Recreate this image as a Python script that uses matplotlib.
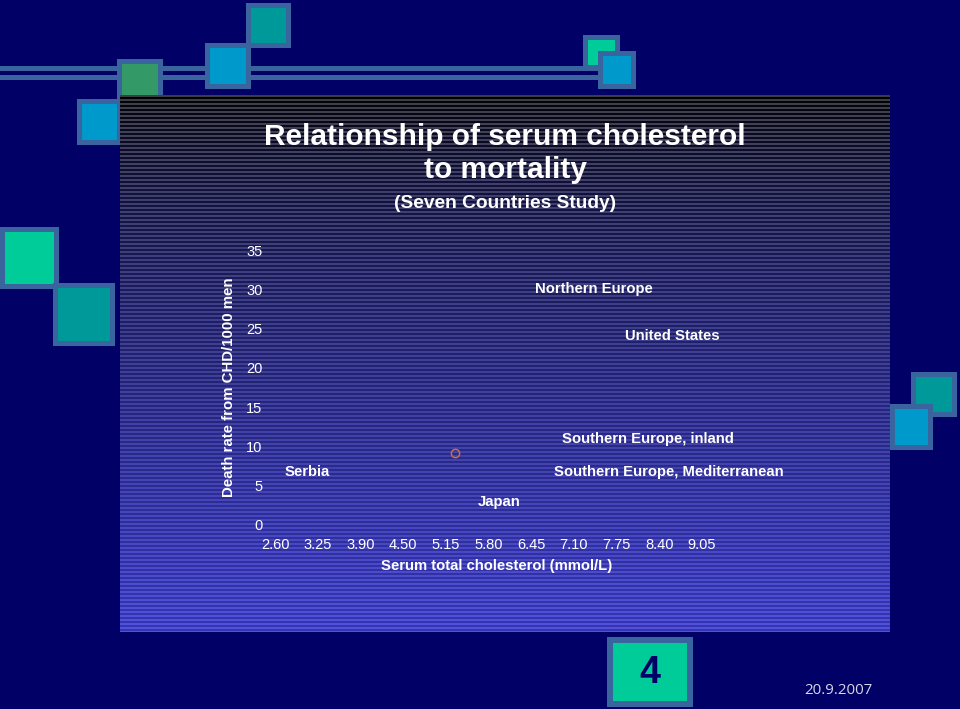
import numpy as np
import matplotlib
matplotlib.use("Agg")
import matplotlib.pyplot as plt
from matplotlib.patches import Rectangle

plt.rcParams["font.family"] = ["Liberation Sans", "DejaVu Sans"]

# eje x categórico: etiquetas tal cual en la diapositiva
x_labels = ["2.60", "3.25", "3.90", "4.50", "5.15", "5.80",
            "6.45", "7.10", "7.75", "8.40", "9.05"]
y_ticks = [0, 5, 10, 15, 20, 25, 30, 35]

# el único punto dibujado
point_chol = [5.29]
point_rate = [9.2]

# rótulos de regiones (colesterol, tasa)
region_names = ["Northern Europe", "United States", "Southern Europe, inland",
                "Southern Europe, Mediterranean", "Serbia", "Japan"]
region_chol = [7.41, 8.60, 8.22, 8.55, 3.09, 5.96]
region_rate = [30.0, 24.0, 10.9, 6.7, 6.7, 2.9]

NAVY = "#000066"
BORDE = "#3a649e"

W, H = 960, 709
fig = plt.figure(figsize=(W / 100, H / 100), dpi=100, facecolor=NAVY)

# capa de fondo en coordenadas de píxel
bg = fig.add_axes([0, 0, 1, 1])
bg.set_xlim(0, W)
bg.set_ylim(H, 0)
bg.axis("off")
bg.set_facecolor(NAVY)


def cuadro(x0, y0, x1, y1, relleno, b=5):
    bg.add_patch(Rectangle((x0, y0), x1 - x0, y1 - y0, fc=BORDE, ec="none"))
    bg.add_patch(Rectangle((x0 + b, y0 + b), x1 - x0 - 2 * b, y1 - y0 - 2 * b,
                           fc=relleno, ec="none"))


# barra horizontal superior
bg.add_patch(Rectangle((0, 66), 598, 14, fc=BORDE, ec="none"))
bg.add_patch(Rectangle((0, 71), 598, 3.5, fc=NAVY, ec="none"))

cuadro(246, 3, 291, 48, "#009999")
cuadro(205, 43, 251, 89, "#0099cc")
cuadro(117, 59, 163, 105, "#339966")
cuadro(77, 99, 122, 145, "#0099cc")
cuadro(583, 35, 620, 70, "#00cc99")
cuadro(598, 51, 636, 89, "#0099cc")
cuadro(0, 227, 59, 289, "#00cc99")
cuadro(53, 283, 115, 346, "#009999")
cuadro(911, 372, 957, 417, "#009999")
cuadro(890, 404, 933, 450, "#0099cc")

# panel degradado con rayas horizontales
px0, px1, py0, py1 = 120, 890, 95, 632
n = py1 - py0
t = np.linspace(0, 1, n)[:, None]
base = np.array([0.21, 0.21, 0.70]) * t ** 0.65
linea = (base + np.array([0.24, 0.24, 0.24]) * (1 - t) ** 2
         + np.array([0.11, 0.11, 0.17]) * t)
filas = np.arange(n) % 4 < 2
img = np.where(filas[:, None], linea, base).clip(0, 1)[:, None, :]
bg.imshow(img, extent=(px0, px1, py1, py0), aspect="auto",
          interpolation="nearest", zorder=2)

# títulos
bg.text(505, 137, "Relationship of serum cholesterol", color="white",
        fontsize=21.5, fontweight="bold", ha="center", va="center", zorder=3)
bg.text(505, 170, "to mortality", color="white",
        fontsize=21.5, fontweight="bold", ha="center", va="center", zorder=3)
bg.text(505, 203, "(Seven Countries Study)", color="white",
        fontsize=13.8, fontweight="bold", ha="center", va="center", zorder=3)

# número de diapositiva y fecha
cuadro(607, 637, 693, 707, "#00cc99", b=6)
bg.text(650, 673, "4", color=NAVY, fontsize=27, fontweight="bold",
        ha="center", va="center", zorder=3)
bg.text(838, 690, "20.9.2007", color="#d8d8e8", fontsize=10.8,
        family=["Open Sans", "DejaVu Sans"], ha="center", va="center", zorder=3)

# gráfico: categoría 0 en x=275 px, paso 42.7 px
paso = 42.7
izq, der = 268, 808
x_min = (izq - 275) / paso
x_max = (der - 275) / paso
ancho = der - izq
ax = fig.add_axes([izq / W, 1 - 525 / H, ancho / W, 275 / H])
ax.patch.set_alpha(0)
for s in ax.spines.values():
    s.set_visible(False)
ax.set_xlim(x_min, x_max)
ax.set_ylim(0, 35)

pos = np.arange(len(x_labels))
valores = [float(v) for v in x_labels]
ax.set_xticks(pos)
ax.set_xticklabels(x_labels)
ax.set_yticks(y_ticks)
ax.tick_params(length=0, colors="white", labelsize=10.5)
ax.tick_params(axis="y", pad=4)
ax.tick_params(axis="x", pad=9.5)

ax.plot(np.interp(point_chol, valores, pos), point_rate, "o", ms=6,
        mfc="none", mec="#d07040", mew=1.0)

for nombre, c, r in zip(region_names, region_chol, region_rate):
    ax.text(np.interp(c, valores, pos), r, nombre, color="white",
            fontsize=10.7, fontweight="bold", ha="center", va="center")

ax.set_ylabel("Death rate from CHD/1000 men", color="white",
              fontsize=10.8, fontweight="bold", va="center")
ax.yaxis.set_label_coords((229 - izq) / ancho, 0.5)
ax.set_xlabel("Serum total cholesterol (mmol/L)", color="white",
              fontsize=10.7, fontweight="bold", va="center")
ax.xaxis.set_label_coords((497 - izq) / ancho, -41 / 275)

fig.savefig("out.png", dpi=100, facecolor=NAVY)
